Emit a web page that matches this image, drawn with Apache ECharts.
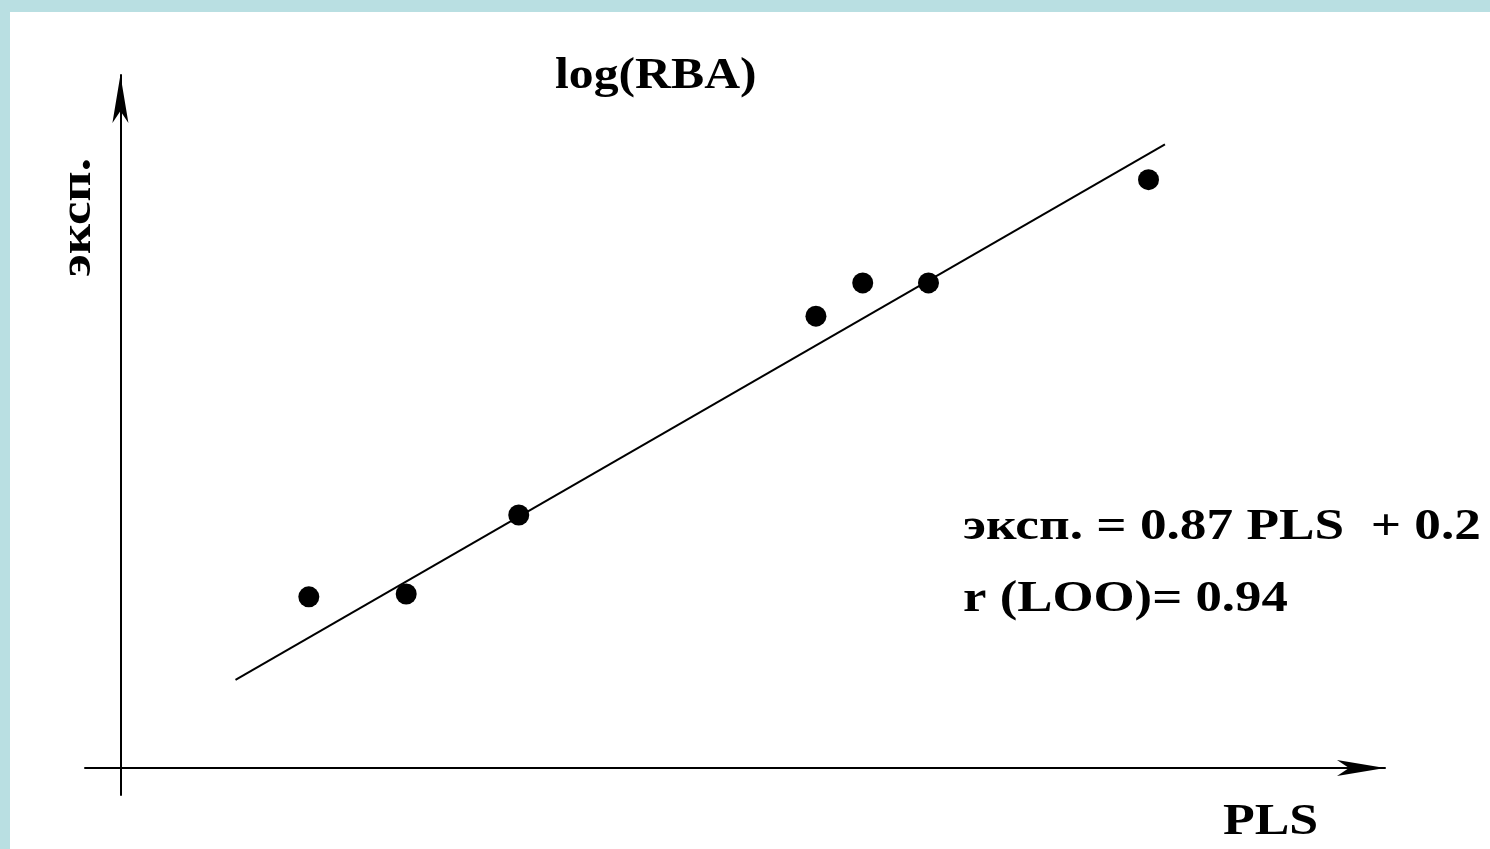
<!DOCTYPE html>
<html>
<head>
<meta charset="utf-8">
<script src="https://cdn.jsdelivr.net/npm/echarts@6/dist/echarts.min.js"></script>
<style>
  html, body { margin: 0; padding: 0; background: #b9dfe2; }
  #main { position: absolute; left: 10px; top: 12px; width: 1480px; height: 837px; background: #ffffff; }
</style>
</head>
<body>
<div id="main"></div>
<script>
var plsValues = [1.49, 2.26, 3.15, 5.50, 5.87, 6.39, 8.13];
var expValues = [2.47, 2.51, 3.65, 6.52, 7.00, 7.00, 8.49];
// regression line ends
var fitX = [0.91, 8.26];
var fitY = [1.27, 9.00];

var points = [];
for (var i = 0; i < plsValues.length; i++) {
  points.push([plsValues[i], expValues[i]]);
}
var fitLine = [];
for (var j = 0; j < fitX.length; j++) {
  fitLine.push([fitX[j], fitY[j]]);
}

var serif = '"Liberation Serif", "DejaVu Serif", serif';
var chart = echarts.init(document.getElementById('main'));

// text helper, stretched a bit wider like the original bitmap font
function label(txt, x, y, sx, rot) {
  return {
    type: 'text', x: x, y: y, scaleX: sx, rotation: rot || 0,
    style: { text: txt, font: 'bold 44px ' + serif, fill: '#000', verticalAlign: 'top' }
  };
}

var option = {
  animation: false,
  backgroundColor: '#ffffff',
  grid: { left: 75, right: 105, top: 63, bottom: 54 },
  xAxis: {
    type: 'value',
    min: -0.28,
    max: 10,
    axisLine: {
      onZero: true,
      lineStyle: { color: '#000', width: 2 },
      symbol: ['none', 'arrow'],
      symbolSize: [12, 48],
      symbolOffset: [0, 0]
    },
    axisTick: { show: false },
    axisLabel: { show: false },
    splitLine: { show: false }
  },
  yAxis: {
    type: 'value',
    min: -0.39,
    max: 10,
    axisLine: {
      onZero: true,
      lineStyle: { color: '#000', width: 2 },
      symbol: ['none', 'arrow'],
      symbolSize: [12, 48],
      symbolOffset: [0, 0]
    },
    axisTick: { show: false },
    axisLabel: { show: false },
    splitLine: { show: false }
  },
  graphic: [
    label('log(RBA)', 545, 43, 1.13),
    label('эксп.', 47, 265, 1.2, Math.PI / 2),
    label('PLS', 1213, 789, 1.18),
    label('эксп. = 0.87 PLS  + 0.2', 953, 494, 1.21),
    label('r (LOO)= 0.94', 953, 566, 1.2)
  ],
  series: [
    {
      type: 'line',
      data: fitLine,
      symbol: 'none',
      lineStyle: { color: '#000', width: 2 },
      z: 2
    },
    {
      type: 'scatter',
      data: points,
      symbol: 'circle',
      symbolSize: 21,
      itemStyle: { color: '#000', opacity: 1 },
      z: 3
    }
  ]
};
chart.setOption(option);
</script>
</body>
</html>
